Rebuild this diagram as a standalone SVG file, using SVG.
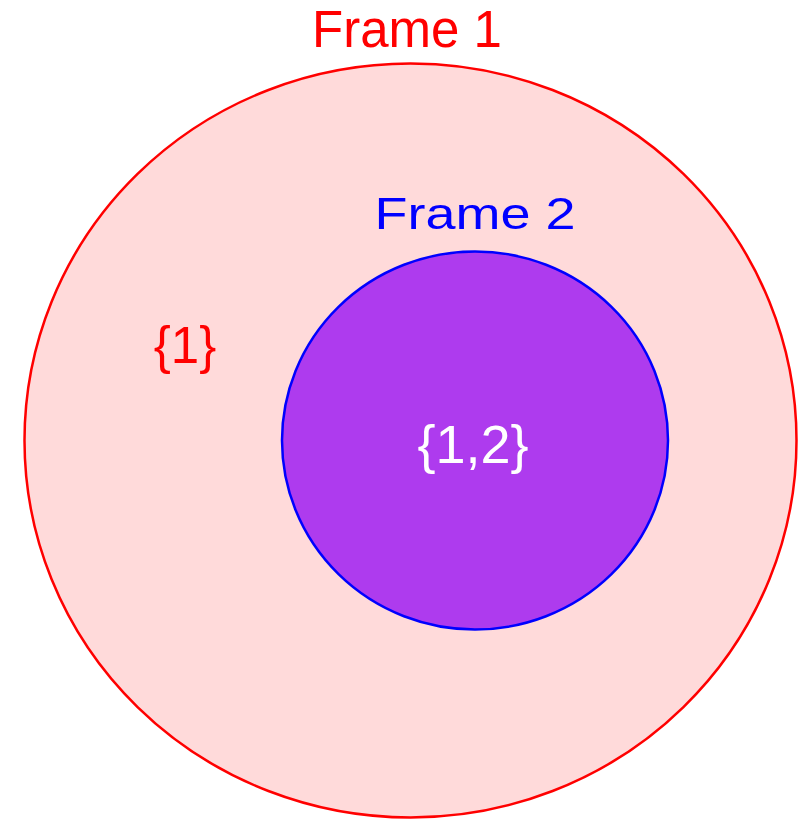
<svg xmlns="http://www.w3.org/2000/svg" width="808" height="819" viewBox="0 0 808 819">
<style>
text{font-family:"Liberation Sans",Arial,sans-serif;text-anchor:middle}
.f1{fill:#FF0000}
.f2{fill:#0000FF}
</style>
<rect width="808" height="819" fill="#FFFFFF"/>
<g id="frame1">
<ellipse cx="410.5" cy="440.5" rx="386" ry="377" fill="#FFDADA" stroke="#FF0000" stroke-width="2.5"/>
<text class="f1" x="407" y="47" font-size="51">Frame 1</text>
<text class="f1" x="185" y="363" font-size="51">{1}</text>
</g>
<g id="frame2">
<ellipse cx="475" cy="440.5" rx="193" ry="189" fill="#AE3BEE" stroke="#0000FF" stroke-width="2.5"/>
<text class="f2" x="475" y="229" font-size="44" textLength="201" lengthAdjust="spacingAndGlyphs">Frame 2</text>
<text x="473" y="463" font-size="54" fill="#FFFFFF">{1,2}</text>
</g>
<g id="connectors"/>
</svg>
